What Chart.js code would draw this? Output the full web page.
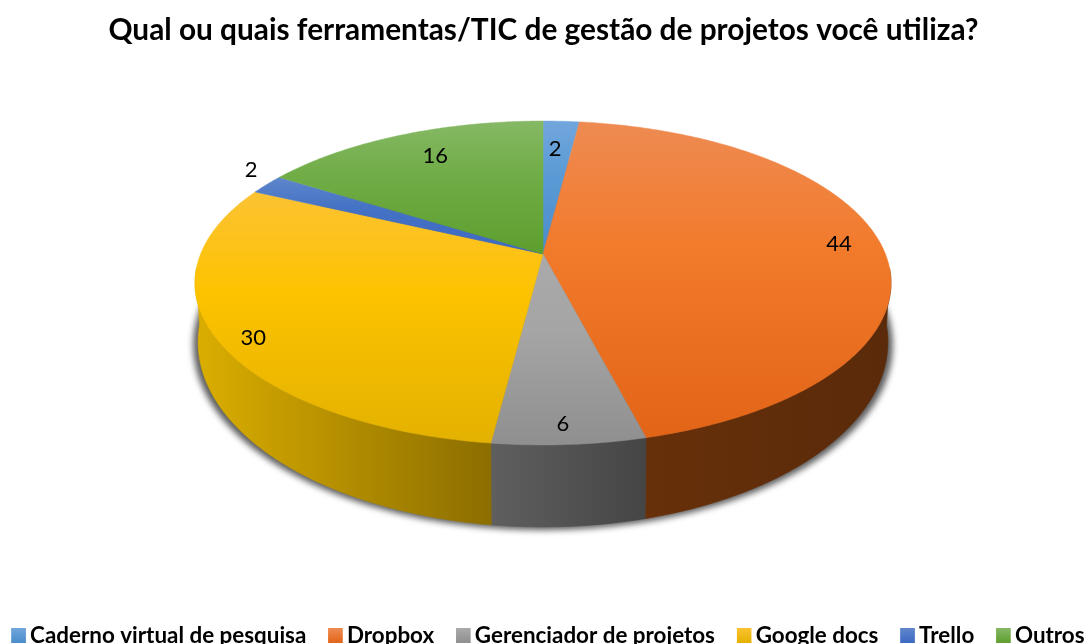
<!DOCTYPE html>
<html><head><meta charset="utf-8">
<script src="https://cdn.jsdelivr.net/npm/chart.js@4"></script>
<style>html,body{margin:0;padding:0;background:#fff;overflow:hidden}canvas{display:block}</style>
</head><body><canvas id="c" width="1087" height="644"></canvas>
<script>
const titleText = "Qual ou quais ferramentas/TIC de gestão de projetos você utiliza?";
const categories = ["Caderno virtual de pesquisa","Dropbox","Gerenciador de projetos","Google docs","Trello","Outros"];
const values = [2,44,6,30,2,16];
const topLight = ["#72a6dc","#ee8b52","#aaaaaa","#fcc233","#5f86cc","#86b865"];
const topMid   = ["#5b9bd5","#f27a2b","#a5a5a5","#fdc300","#4472c4","#70ad47"];
const topDark  = ["#4a8ccb","#e26417","#8f8f8f","#e3b100","#3d69c2","#5e9e2e"];
const sideA    = ["#35608a","#67300a","#5f5f5f","#dbae00","#2c4a80","#48702e"];
const sideB    = ["#35608a","#5a2a0a","#454545","#8c6e00","#2c4a80","#48702e"];
const labelRadius = [0.77,0.878,0.905,0.912,1.114,0.796];
const labelTurn   = [-0.6,-1.0,0.5,-3.3,3.4,2.3];

// projected disc geometry
const G = {cx:543, apexY:254, A:342.4, a:111.3, c:-0.179, sx:0.991, sy:1.142, y0:342, ym:283};
function proj(r,ang){const u=r*Math.cos(ang),v=r*Math.sin(ang),d=1+G.c*v;
  return {x:G.cx+G.A*u/d,y:(G.apexY+G.a*v)/d};}
function low(p){return {x:G.cx+G.sx*(p.x-G.cx),y:G.y0+G.sy*(p.y-G.ym)};}
function rim(a0,a1){const n=Math.max(2,Math.ceil(Math.abs(a1-a0)/0.01)),o=[];
  for(let i=0;i<=n;i++)o.push(proj(1,a0+(a1-a0)*i/n));return o;}

const pie3d = {
  id:'pie3d',
  beforeDraw(chart){
    const l=chart.legend, dx=548-(l.left+l.right)/2, top=602.3, h=l.bottom-l.top;
    const dy=top-l.top; l.left+=dx;l.right+=dx;l.top=top;l.bottom=top+h;
    l.legendHitBoxes.forEach(b=>{b.left+=dx;b.top+=dy;});
  },
  beforeDatasetDraw(chart,args){
    const ctx=chart.ctx, arcs=args.meta.data;
    const full=rim(0,Math.PI*2);
    // soft shadow under the base
    ctx.save();
    ctx.filter='blur(3px)';ctx.fillStyle='#5c5c5c';
    ctx.beginPath();
    full.forEach((p,i)=>{const q=low(p),x=G.cx+(q.x-G.cx)*1.014,y=q.y+3;i?ctx.lineTo(x,y):ctx.moveTo(x,y);});
    ctx.closePath();ctx.fill();ctx.restore();
    // side walls
    arcs.forEach((el,i)=>{
      const pts=rim(el.startAngle,el.endAngle).filter(p=>p.y>268);
      if(pts.length<2)return;
      const xs=pts.filter(p=>p.y>283).map(p=>p.x);
      const g=ctx.createLinearGradient(Math.min(...xs),0,Math.max(...xs),0);
      g.addColorStop(0,sideA[i]);g.addColorStop(1,sideB[i]);
      ctx.fillStyle=g;ctx.strokeStyle=g;ctx.lineWidth=0.6;
      ctx.beginPath();
      pts.forEach((p,k)=>k?ctx.lineTo(p.x,p.y):ctx.moveTo(p.x,p.y));
      pts.slice().reverse().forEach(p=>{const q=low(p);ctx.lineTo(q.x,q.y);});
      ctx.closePath();ctx.fill();ctx.stroke();
    });
    // top face: each slice carries its own vertical gradient over its own height
    arcs.forEach((el,i)=>{
      const pts=rim(el.startAngle,el.endAngle);
      const ys=pts.map(p=>p.y).concat(G.apexY);
      const g=ctx.createLinearGradient(0,Math.min(...ys),0,Math.max(...ys));
      g.addColorStop(0,topLight[i]);g.addColorStop(0.4,topMid[i]);g.addColorStop(1,topDark[i]);
      ctx.fillStyle=g;ctx.strokeStyle=g;ctx.lineWidth=0.5;
      ctx.beginPath();ctx.moveTo(G.cx,G.apexY);
      pts.forEach(p=>ctx.lineTo(p.x,p.y));
      ctx.closePath();ctx.fill();ctx.stroke();
    });
    return false;
  },
  afterDatasetsDraw(chart){
    const ctx=chart.ctx, arcs=chart.getDatasetMeta(0).data;
    ctx.save();ctx.font='22px Lato';ctx.fillStyle='#000';ctx.textAlign='center';ctx.textBaseline='middle';
    arcs.forEach((el,i)=>{
      const mid=(el.startAngle+el.endAngle)/2+labelTurn[i]*Math.PI/180;
      const p=proj(labelRadius[i],mid);
      ctx.fillText(String(values[i]),p.x,p.y+0.5);
    });
    ctx.restore();
  },
  afterDraw(chart){
    const ctx=chart.ctx;
    chart.legend.legendHitBoxes.forEach((b,i)=>{
      const t=b.top+(b.height-15)/2;
      const g=ctx.createLinearGradient(0,t,0,t+15);
      g.addColorStop(0,topLight[i]);g.addColorStop(1,topDark[i]);
      ctx.fillStyle=g;ctx.fillRect(b.left,t,14.5,15);
    });
  }
};

new Chart(document.getElementById('c'),{
  type:'pie',
  data:{labels:categories,datasets:[{data:values,backgroundColor:topMid,borderWidth:0}]},
  plugins:[pie3d],
  options:{
    responsive:false,animation:false,
    layout:{padding:{top:13,left:-30,right:-30,bottom:0}},
    plugins:{
      tooltip:{enabled:false},
      title:{display:true,text:titleText,color:'#000',font:{family:'Lato',size:29.8,weight:'bold'},padding:{top:0,bottom:10}},
      legend:{display:true,position:'bottom',
        labels:{color:'#000',font:{family:'Lato',size:22.4,weight:'bold'},boxWidth:7.5,boxHeight:15,padding:22}}
    }
  }
});
</script></body></html>
